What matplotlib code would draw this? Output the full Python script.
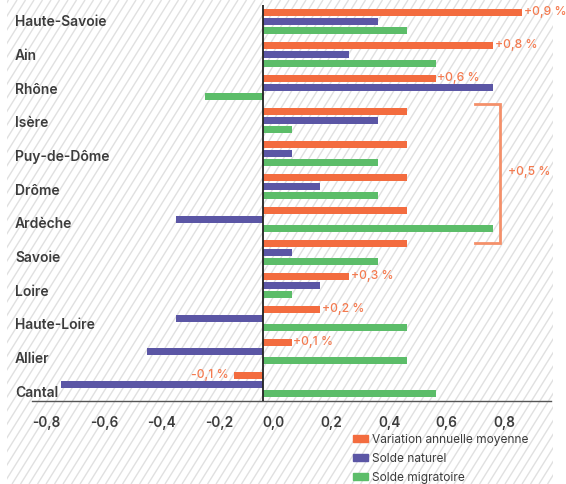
import numpy as np
import matplotlib
matplotlib.use("Agg")
import matplotlib.pyplot as plt
from matplotlib.patches import Patch, Rectangle
from matplotlib.collections import LineCollection
from matplotlib.transforms import blended_transform_factory

plt.rcParams["font.family"] = ["Inter", "DejaVu Sans"]

regions = ["Haute-Savoie", "Ain", "Rhône", "Isère", "Puy-de-Dôme", "Drôme",
           "Ardèche", "Savoie", "Loire", "Haute-Loire", "Allier", "Cantal"]
variation = [0.9, 0.8, 0.6, 0.5, 0.5, 0.5, 0.5, 0.5, 0.3, 0.2, 0.1, -0.1]
naturel = [0.4, 0.3, 0.8, 0.4, 0.1, 0.2, -0.3, 0.1, 0.2, -0.3, -0.4, -0.7]
migratoire = [0.5, 0.6, -0.2, 0.1, 0.4, 0.4, 0.8, 0.4, 0.1, 0.5, 0.5, 0.6]
series_names = ["Variation annuelle moyenne", "Solde naturel", "Solde migratoire"]
xticks = [-0.8, -0.6, -0.4, -0.2, 0.0, 0.2, 0.4, 0.6, 0.8]
bracket_label = "+0,5 %"

ORANGE = "#F36C3F"
PURPLE = "#5B56A5"
GREEN = "#5CBD69"
LABEL_ORANGE = "#F47B50"
TEXT = "#3C3C3C"

W, H = 566, 484
fig = plt.figure(figsize=(W / 100, H / 100), dpi=100)
fig.patch.set_facecolor("white")

# hatched background
bg = fig.add_axes([0, 0, 1, 1], zorder=-1)
bg.set_xlim(0, W)
bg.set_ylim(0, H)
bg.axis("off")
run = H / np.tan(np.radians(58))
segs = [[(x0, 0), (x0 + run, H)] for x0 in np.arange(-run, W, 8.5)]
lc = LineCollection(segs, colors="#E0E0E0", linewidths=1.0)
bg.add_collection(lc)
lc.set_clip_path(Rectangle((7, 0), 546, H, transform=bg.transData))

ax = fig.add_axes([32 / W, (H - 401) / H, (551 - 32) / W, (401 - 5) / H])
ax.set_facecolor("none")

y = np.arange(len(regions))
h = 0.225
step = 0.273
ax.barh(y - step, variation, height=h, color=ORANGE, label=series_names[0])
ax.barh(y, naturel, height=h, color=PURPLE, label=series_names[1])
ax.barh(y + step, migratoire, height=h, color=GREEN, label=series_names[2])

ax.set_xlim(-0.8, 1.0)
ax.set_ylim(len(regions) - 0.5, -0.5)
ax.axvline(0, color="#222222", lw=1.3, zorder=3)

for s in ["top", "right", "left"]:
    ax.spines[s].set_visible(False)
ax.spines["bottom"].set_color("#555555")
ax.spines["bottom"].set_linewidth(1.0)

ax.set_yticks([])
ax.set_xticks(xticks)
ax.set_xticklabels([f"{t:.1f}".replace(".", ",").replace("-0,0", "0,0") for t in xticks],
                   fontsize=9.8, fontweight="semibold", color=TEXT, ha="left")
ax.tick_params(axis="x", length=0, pad=11)

# region names on the left
name_tr = blended_transform_factory(fig.transFigure, ax.transData)
for i, name in enumerate(regions):
    ax.text(15 / W, i * 1.021 + 0.02, name, transform=name_tr, ha="left", va="center",
            fontsize=10, fontweight="semibold", color=TEXT)

# value labels on the annual variation bars
for i, v in enumerate(variation):
    if v == 0.5:
        continue
    txt = f"{v:+.1f} %".replace(".", ",")
    if v >= 0:
        ax.annotate(txt, (v, i - step), xytext=(1, 0), textcoords="offset points",
                    ha="left", va="center", fontsize=8.8, fontweight="medium",
                    color=LABEL_ORANGE)
    else:
        ax.annotate(txt, (v, i - step), xytext=(-4, 0), textcoords="offset points",
                    ha="right", va="center", fontsize=8.8, fontweight="medium",
                    color=LABEL_ORANGE)

# bracket for the +0,5 % group
ax.plot([0.736, 0.822, 0.822, 0.736], [2.5, 2.5, 6.7, 6.7],
        color="#F4906A", lw=2, solid_joinstyle="miter", clip_on=False)
ax.text(0.851, 4.55, bracket_label, ha="left", va="center",
        fontsize=8.8, fontweight="medium", color=LABEL_ORANGE)

handles = [Patch(color=c) for c in (ORANGE, PURPLE, GREEN)]
fig.legend(handles, series_names, loc="upper left",
           bbox_to_anchor=(352.7 / W, (H - 434) / H), frameon=False,
           fontsize=8.6, handlelength=1.25, handleheight=0.5,
           handletextpad=0.35, labelspacing=0.58, borderpad=0, borderaxespad=0,
           labelcolor=TEXT)

fig.savefig("out.png", dpi=100)
